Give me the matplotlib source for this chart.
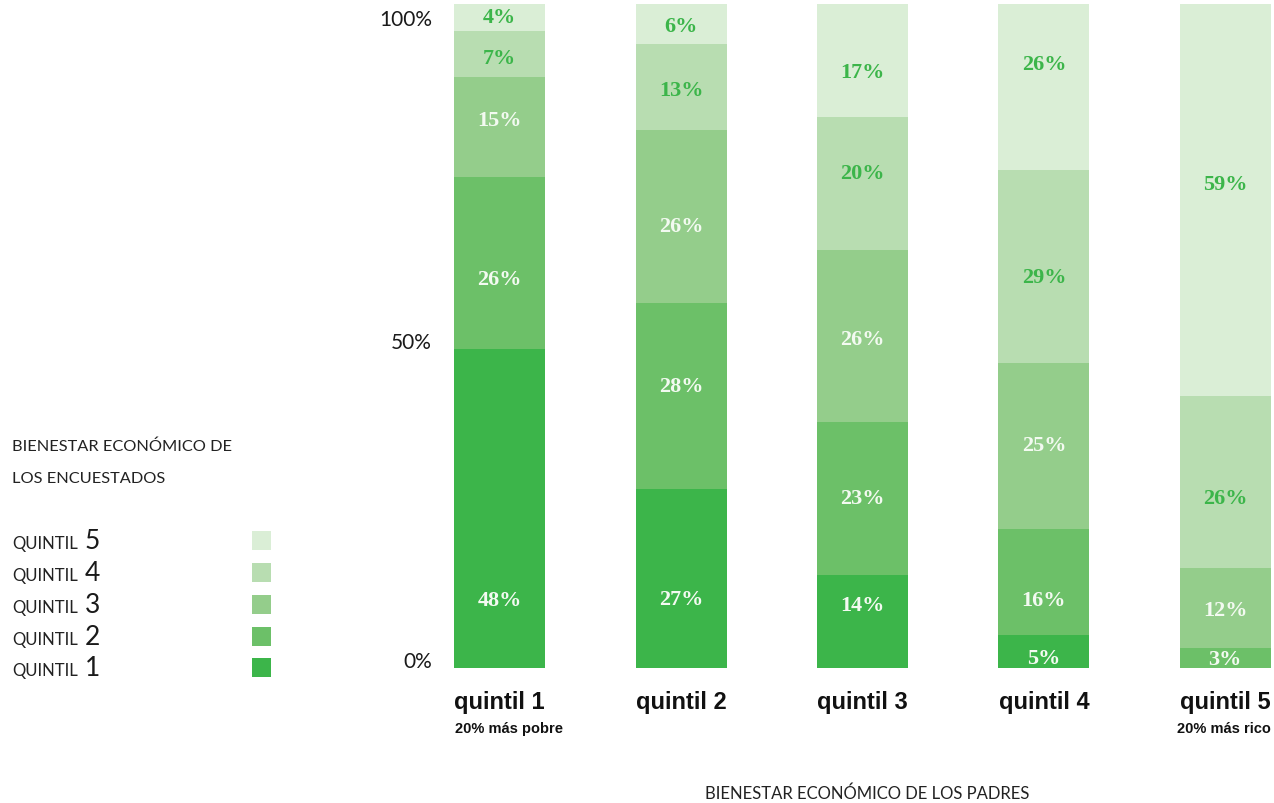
import matplotlib
matplotlib.use("Agg")
import matplotlib.pyplot as plt
import numpy as np

# Parents' quintile (columns) and respondents' quintile shares (stacked, bottom to top)
parent_labels = ["quintil 1", "quintil 2", "quintil 3", "quintil 4", "quintil 5"]
parent_sublabels = ["20% más pobre", "", "", "", "20% más rico"]
q1 = [48, 27, 14, 5, 0]
q2 = [26, 28, 23, 16, 3]
q3 = [15, 26, 26, 25, 12]
q4 = [7, 13, 20, 29, 26]
q5 = [4, 6, 17, 26, 59]
series = [q1, q2, q3, q4, q5]
series_names = ["1", "2", "3", "4", "5"]
yticks = [0, 50, 100]
ytick_labels = ["0%", "50%", "100%"]

# styling
colors = ["#3cb54a", "#6cc068", "#94cd8b", "#b8ddb1", "#daeed6"]
pale = "#f3faf1"
green = "#3cb54a"
label_colors = [pale, pale, pale, green, green]
# vertical placement of the value labels inside each segment (axis percent)
label_y = [
    [10.2, 10.4, 9.5, 1.5, None],
    [58.6, 42.5, 25.6, 10.2, 1.4],
    [82.5, 66.6, 49.5, 33.6, 8.7],
    [91.9, 87.0, 74.5, 58.9, 25.6],
    [98.0, 96.7, 89.8, 91.0, 72.9],
]

W, H = 1274, 804
fig = plt.figure(figsize=(W / 100, H / 100), dpi=100)
fig.patch.set_facecolor("white")

ax = fig.add_axes([409 / W, (H - 669) / H, (1316 - 409) / W, 664 / H])
ax.set_xlim(-0.5, 4.5)
ax.set_ylim(0, 100)
ax.axis("off")

x = np.arange(len(parent_labels))
bottom = np.zeros(len(x))
bar_font = dict(family=["Liberation Serif", "DejaVu Serif"], weight="bold", fontsize=16)
for i, vals in enumerate(series):
    vals = np.array(vals, dtype=float)
    ax.bar(x, vals, bottom=bottom, width=0.502, color=colors[i], linewidth=0)
    for j, v in enumerate(vals):
        if v <= 0:
            continue
        ax.text(x[j], label_y[i][j], f"{int(v)}%", ha="center", va="center",
                color=label_colors[i], **bar_font)
    bottom += vals

# y tick labels
ytick_pos = {0: 1.1, 50: 49.1, 100: 97.7}
for t, lab in zip(yticks, ytick_labels):
    ax.text(-0.373, ytick_pos[t], lab, ha="right", va="center", fontsize=15,
            color="#1a1a1a", family=["Lato", "DejaVu Sans"])

# x category labels
cat_font = ["Liberation Sans Narrow", "Liberation Sans", "DejaVu Sans"]
for j, (lab, sub) in enumerate(zip(parent_labels, parent_sublabels)):
    ax.text(x[j], -5.0, lab, ha="center", va="center", fontsize=17, fontweight="bold",
            family=cat_font, color="#111111")
    if sub:
        ax.text(x[j] + (0.05 if j == 0 else -0.01), -9.0, sub, ha="center", va="center",
                fontsize=10.5, fontweight="bold", family=cat_font, color="#111111")

fig.text(867 / W, 1 - 794 / H, "BIENESTAR ECONÓMICO DE LOS PADRES", ha="center", va="center",
         fontsize=12, color="#222222", family=["Lato", "DejaVu Sans"])

# legend
leg_font = ["Lato", "DejaVu Sans"]
fig.text(12 / W, 1 - 447 / H, "BIENESTAR ECONÓMICO DE", ha="left", va="center",
         fontsize=11.8, color="#222222", family=leg_font)
fig.text(12 / W, 1 - 479 / H, "LOS ENCUESTADOS", ha="left", va="center",
         fontsize=11.8, color="#222222", family=leg_font)
leg_y = [668, 637, 605, 573, 541]
for name, c, yy in zip(series_names, colors, leg_y):
    fig.text(12 / W, 1 - (yy + 8) / H, "QUINTIL", ha="left", va="baseline",
             fontsize=12, color="#222222", family=leg_font)
    fig.text(85 / W, 1 - (yy + 8) / H, name, ha="left", va="baseline",
             fontsize=19, color="#1a1a1a", family=leg_font)
    fig.patches.append(plt.Rectangle((252 / W, 1 - (yy + 9.5) / H), 19 / W, 19 / H,
                                     transform=fig.transFigure, color=c, linewidth=0))

fig.savefig("out.png", dpi=100, facecolor="white")
